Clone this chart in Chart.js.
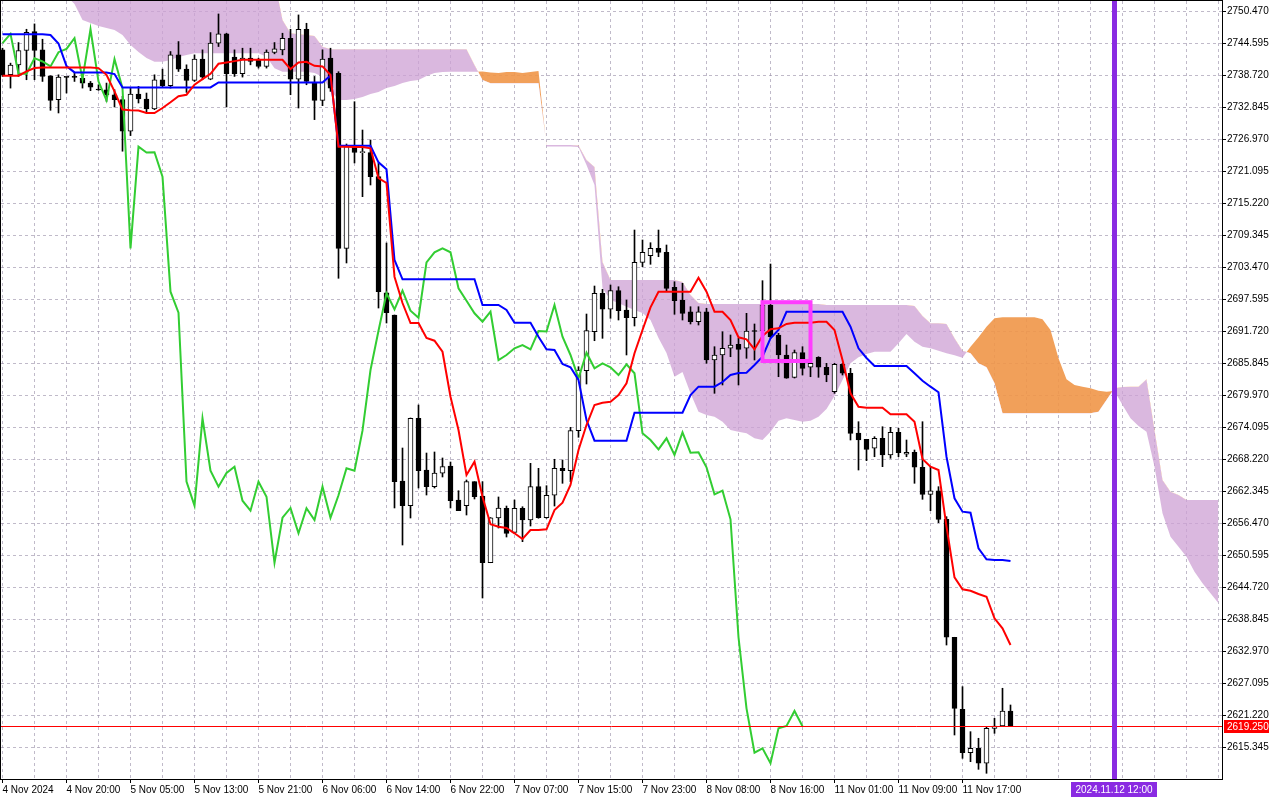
<!DOCTYPE html>
<html>
<head>
<meta charset="utf-8">
<title>XAUUSD H1 Ichimoku</title>
<script src="https://cdn.jsdelivr.net/npm/chart.js@4.4.1/dist/chart.umd.min.js"></script>
<style>
    html, body { margin: 0; padding: 0; background: #ffffff; }
    #wrap { width: 1280px; height: 800px; }
</style>
</head>
<body>
<div id="wrap"><canvas id="ichimokuChart" width="1280" height="800"></canvas></div>
<script>
// Time axis labels (every 8th hourly bar)
var timeLabels = ['4 Nov 2024', '4 Nov 20:00', '5 Nov 05:00', '5 Nov 13:00', '5 Nov 21:00', '6 Nov 06:00',
    '6 Nov 14:00', '6 Nov 22:00', '7 Nov 07:00', '7 Nov 15:00', '7 Nov 23:00', '8 Nov 08:00',
    '8 Nov 16:00', '11 Nov 01:00', '11 Nov 09:00', '11 Nov 17:00'];

var priceTicks = [2750.470, 2744.595, 2738.720, 2732.845, 2726.970, 2721.095, 2715.220, 2709.345,
    2703.470, 2697.595, 2691.720, 2685.845, 2679.970, 2674.095, 2668.220, 2662.345, 2656.470,
    2650.595, 2644.720, 2638.845, 2632.970, 2627.095, 2621.220, 2615.345];

var opens = [2743.43, 2738.85, 2740.68, 2743.31, 2746.78, 2743.43, 2738.67, 2734.28, 2738.43, 2738.43,
    2738.18, 2737.33, 2736.11, 2736.11, 2735.19, 2734.28, 2728.48, 2735.32, 2734.40, 2732.58,
    2737.94, 2736.84, 2742.51, 2739.89, 2737.82, 2741.72, 2738.06, 2744.65, 2746.36, 2742.09,
    2739.04, 2741.90, 2741.60, 2740.38, 2742.94, 2743.43, 2745.56, 2738.06, 2747.21, 2737.45,
    2734.16, 2741.90, 2739.12, 2706.99, 2725.54, 2724.55, 2724.55, 2720.14, 2698.84, 2694.75,
    2664.27, 2659.74, 2675.78, 2666.29, 2663.23, 2665.69, 2667.03, 2660.79, 2659.74, 2664.15,
    2661.52, 2649.27, 2657.48, 2659.26, 2654.85, 2659.26, 2657.11, 2663.23, 2657.53, 2661.65,
    2666.60, 2666.16, 2673.51, 2684.52, 2691.68, 2698.73, 2695.80, 2699.21, 2695.67, 2694.25,
    2704.42, 2705.64, 2706.99, 2706.26, 2699.84, 2697.50, 2695.35, 2693.52, 2695.35, 2686.49,
    2687.41, 2688.64, 2689.37, 2688.64, 2691.81, 2691.81, 2696.59, 2691.08, 2687.41, 2683.31,
    2687.83, 2685.15, 2686.98, 2685.15, 2680.67, 2685.70, 2684.05, 2673.09, 2671.93, 2670.28,
    2672.11, 2669.05, 2673.21, 2669.18, 2669.54, 2666.79, 2661.83, 2662.49, 2657.24, 2635.58,
    2622.36, 2614.39, 2615.20, 2612.45, 2618.87, 2619.29, 2622.05];

var highs = [2743.73, 2740.99, 2744.77, 2747.21, 2748.19, 2745.38, 2738.67, 2738.85, 2738.43, 2739.28,
    2738.67, 2737.63, 2737.02, 2737.33, 2736.11, 2734.89, 2736.41, 2736.72, 2735.50, 2738.85,
    2739.89, 2743.12, 2744.95, 2740.68, 2742.51, 2743.43, 2746.60, 2750.02, 2746.48, 2743.43,
    2743.73, 2743.73, 2741.90, 2743.43, 2744.77, 2746.48, 2747.21, 2749.84, 2748.31, 2738.55,
    2743.43, 2743.73, 2739.42, 2726.14, 2733.91, 2728.71, 2726.88, 2722.66, 2707.97, 2694.75,
    2670.33, 2675.84, 2678.23, 2669.41, 2669.60, 2668.50, 2667.76, 2662.49, 2664.46, 2664.15,
    2664.15, 2657.56, 2661.34, 2659.68, 2660.79, 2659.55, 2667.52, 2666.60, 2663.41, 2668.26,
    2668.13, 2674.13, 2685.26, 2694.93, 2700.07, 2699.47, 2700.26, 2699.94, 2697.50, 2710.35,
    2708.52, 2708.02, 2710.35, 2707.60, 2700.86, 2700.57, 2696.27, 2696.27, 2695.98, 2688.93,
    2691.68, 2691.08, 2690.47, 2695.06, 2693.10, 2701.05, 2704.11, 2691.39, 2689.24, 2688.32,
    2688.93, 2686.49, 2687.09, 2685.88, 2685.88, 2685.88, 2684.96, 2675.16, 2671.93, 2672.41,
    2674.24, 2674.13, 2673.95, 2671.80, 2669.96, 2675.16, 2666.90, 2663.23, 2657.72, 2635.58,
    2626.51, 2618.25, 2617.04, 2619.17, 2620.71, 2626.22, 2623.15];

var lows = [2738.55, 2736.41, 2738.55, 2737.94, 2737.94, 2737.63, 2732.33, 2731.84, 2735.50, 2737.63,
    2736.41, 2735.93, 2735.99, 2733.97, 2732.94, 2724.82, 2727.69, 2733.67, 2731.84, 2732.45,
    2736.60, 2736.41, 2739.46, 2735.62, 2737.63, 2737.94, 2737.94, 2744.04, 2732.94, 2738.55,
    2738.43, 2740.68, 2740.08, 2740.08, 2742.70, 2742.51, 2735.19, 2732.75, 2737.02, 2730.62,
    2733.18, 2735.80, 2701.49, 2704.30, 2722.66, 2716.47, 2718.62, 2696.03, 2693.28, 2659.32,
    2652.52, 2657.48, 2662.99, 2661.70, 2662.99, 2665.01, 2659.32, 2658.82, 2658.03, 2660.97,
    2642.79, 2649.27, 2655.64, 2653.99, 2654.67, 2653.13, 2656.01, 2657.43, 2657.43, 2659.68,
    2663.85, 2664.15, 2672.30, 2682.08, 2690.03, 2690.47, 2694.14, 2693.83, 2687.41, 2692.73,
    2703.62, 2704.06, 2705.45, 2699.03, 2694.88, 2693.83, 2693.10, 2692.91, 2685.88, 2680.37,
    2681.90, 2687.09, 2681.90, 2686.80, 2686.49, 2690.53, 2690.47, 2683.42, 2683.13, 2683.18,
    2683.73, 2683.42, 2683.31, 2682.50, 2680.37, 2683.73, 2671.80, 2666.29, 2668.00, 2668.73,
    2666.90, 2668.44, 2668.73, 2668.73, 2663.85, 2660.91, 2658.82, 2656.62, 2634.16, 2617.64,
    2613.36, 2612.74, 2611.34, 2610.61, 2617.95, 2619.17, 2619.25];

var closes = [2738.85, 2740.62, 2743.31, 2746.66, 2743.31, 2738.55, 2734.16, 2738.43, 2738.37, 2738.37,
    2737.33, 2736.60, 2736.05, 2735.19, 2734.28, 2728.48, 2735.32, 2734.40, 2732.58, 2737.94,
    2736.84, 2742.51, 2739.89, 2737.82, 2741.72, 2738.43, 2744.65, 2746.36, 2739.04, 2739.04,
    2741.90, 2741.29, 2740.38, 2743.00, 2743.61, 2745.56, 2738.06, 2747.21, 2737.63, 2734.16,
    2741.72, 2736.41, 2706.99, 2725.65, 2724.58, 2724.64, 2720.14, 2699.03, 2695.17, 2664.15,
    2659.74, 2675.78, 2666.16, 2663.23, 2665.74, 2666.90, 2660.66, 2658.82, 2664.15, 2661.39,
    2649.27, 2657.53, 2659.32, 2654.67, 2659.26, 2657.11, 2663.23, 2657.53, 2661.65, 2666.60,
    2666.16, 2673.51, 2684.65, 2691.87, 2698.73, 2695.80, 2699.21, 2695.54, 2694.25, 2704.42,
    2706.26, 2706.99, 2706.26, 2699.65, 2697.37, 2695.06, 2693.52, 2695.35, 2686.49, 2687.41,
    2688.64, 2689.24, 2688.45, 2691.81, 2691.72, 2696.59, 2690.77, 2687.41, 2683.13, 2687.83,
    2684.96, 2685.88, 2685.15, 2683.73, 2685.70, 2684.05, 2673.03, 2671.80, 2670.09, 2672.11,
    2669.05, 2673.21, 2669.47, 2669.54, 2666.79, 2661.83, 2662.49, 2657.24, 2635.58, 2622.54,
    2614.39, 2615.20, 2612.45, 2618.87, 2619.29, 2622.05, 2619.25];

var tenkan = [2738.68, 2738.68, 2738.68, 2739.47, 2740.08, 2740.21, 2740.21, 2740.21, 2740.21, 2740.21,
    2740.21, 2740.21, 2740.08, 2738.85, 2735.80, 2732.46, 2732.33, 2732.28, 2731.83, 2731.83,
    2732.75, 2733.80, 2734.90, 2735.19, 2737.03, 2738.06, 2739.03, 2740.87, 2741.11, 2741.36,
    2741.60, 2741.60, 2741.60, 2741.60, 2741.60, 2741.60, 2739.89, 2741.11, 2741.23, 2740.50,
    2740.39, 2738.81, 2725.65, 2725.65, 2725.59, 2725.59, 2725.35, 2719.90, 2718.98, 2701.78,
    2696.95, 2693.28, 2693.28, 2690.53, 2690.03, 2688.01, 2679.75, 2673.64, 2665.38, 2667.82,
    2661.39, 2656.32, 2655.88, 2655.64, 2654.67, 2653.63, 2655.28, 2655.28, 2655.41, 2658.95,
    2660.29, 2663.54, 2669.96, 2674.55, 2678.23, 2678.65, 2678.83, 2680.06, 2682.21, 2687.72,
    2691.99, 2696.16, 2699.03, 2699.03, 2699.03, 2699.03, 2699.03, 2701.60, 2699.03, 2695.35,
    2695.35, 2693.83, 2690.66, 2690.29, 2688.45, 2690.89, 2692.12, 2692.31, 2693.10, 2693.34,
    2693.34, 2693.34, 2693.52, 2693.52, 2691.99, 2686.49, 2680.37, 2677.91, 2677.73, 2677.73,
    2677.73, 2676.52, 2676.52, 2676.52, 2675.16, 2668.31, 2666.90, 2666.29, 2655.88, 2646.59,
    2644.39, 2644.13, 2643.53, 2643.03, 2639.07, 2637.23, 2634.16];

var kijun = [2746.30, 2746.30, 2746.30, 2746.30, 2746.30, 2746.30, 2746.15, 2744.59, 2740.46, 2739.29,
    2739.29, 2739.29, 2739.29, 2739.29, 2738.99, 2736.53, 2736.53, 2736.53, 2736.53, 2736.53,
    2736.53, 2736.53, 2736.53, 2736.53, 2736.53, 2736.53, 2736.53, 2737.45, 2737.45, 2737.45,
    2737.45, 2737.45, 2737.45, 2737.45, 2737.45, 2737.45, 2737.45, 2737.45, 2737.45, 2737.45,
    2737.45, 2738.72, 2725.83, 2725.83, 2725.83, 2725.83, 2725.83, 2722.78, 2721.50, 2704.85,
    2701.30, 2701.30, 2701.30, 2701.30, 2701.30, 2701.30, 2701.30, 2701.30, 2701.30, 2701.30,
    2696.59, 2696.59, 2696.59, 2695.67, 2693.34, 2693.34, 2693.34, 2690.77, 2688.45, 2688.32,
    2685.75, 2685.15, 2682.82, 2675.47, 2671.67, 2671.67, 2671.67, 2671.67, 2671.67, 2676.81,
    2676.81, 2676.81, 2676.81, 2676.81, 2676.81, 2676.81, 2680.06, 2681.59, 2681.59, 2681.59,
    2682.45, 2683.73, 2684.10, 2684.16, 2685.57, 2687.09, 2690.47, 2691.99, 2695.35, 2695.35,
    2695.35, 2695.35, 2695.35, 2695.35, 2695.35, 2695.35, 2692.60, 2688.64, 2686.86, 2685.39,
    2685.39, 2685.39, 2685.39, 2685.39, 2684.05, 2682.69, 2681.59, 2680.56, 2668.73, 2661.10,
    2658.64, 2658.45, 2651.92, 2649.90, 2649.77, 2649.77, 2649.59];

// Senkou spans, already shifted 26 bars forward (153 bars incl. future)
var spanA = [2754.42, 2754.42, 2754.42, 2754.42, 2754.42, 2754.42, 2754.42, 2754.42, 2753.31, 2751.85,
    2748.91, 2748.36, 2747.81, 2747.44, 2747.07, 2746.15, 2744.32, 2743.03, 2741.93, 2741.25,
    2741.25, 2741.57, 2742.12, 2742.48, 2742.80, 2742.80, 2742.80, 2742.80, 2742.80, 2742.80,
    2742.80, 2742.80, 2742.80, 2742.17, 2740.04, 2739.42, 2739.42, 2739.42, 2739.42, 2739.18,
    2738.50, 2736.06, 2734.22, 2734.22, 2734.41, 2734.77, 2735.32, 2735.69, 2736.42, 2736.79,
    2737.34, 2737.71, 2737.89, 2738.63, 2739.18, 2739.36, 2739.42, 2739.42, 2739.42, 2739.42,
    2739.45, 2739.27, 2739.18, 2739.36, 2739.36, 2739.18, 2739.36, 2739.55, 2725.68, 2725.68,
    2725.68, 2725.68, 2725.59, 2722.29, 2718.62, 2699.71, 2697.50, 2696.95, 2696.27, 2695.67,
    2695.12, 2693.83, 2690.53, 2687.77, 2683.42, 2684.29, 2680.37, 2677.00, 2676.39, 2676.08,
    2675.16, 2673.64, 2673.32, 2673.03, 2672.11, 2671.80, 2673.32, 2675.34, 2675.79, 2675.47,
    2675.16, 2675.34, 2676.08, 2677.49, 2679.88, 2682.82, 2685.88, 2686.98, 2687.59, 2688.01,
    2688.01, 2688.01, 2689.55, 2691.26, 2689.85, 2688.93, 2688.64, 2688.20, 2687.72, 2687.35,
    2686.91, 2688.93, 2690.66, 2692.60, 2694.14, 2694.33, 2694.33, 2694.33, 2694.33, 2694.33,
    2693.96, 2691.99, 2686.80, 2682.94, 2681.90, 2681.59, 2681.29, 2680.85, 2680.67, 2680.80,
    2678.23, 2675.79, 2674.37, 2673.32, 2666.90, 2658.34, 2654.05, 2652.21, 2650.38, 2647.62,
    2645.49, 2643.66, 2641.82];

var spanB = [2756.25, 2756.25, 2756.25, 2756.25, 2756.25, 2756.25, 2756.25, 2756.25, 2756.25, 2756.25,
    2756.25, 2756.25, 2756.25, 2756.25, 2756.25, 2756.25, 2756.25, 2756.25, 2756.25, 2756.25,
    2756.25, 2756.25, 2756.25, 2756.25, 2756.25, 2756.25, 2756.25, 2756.25, 2756.25, 2756.25,
    2756.25, 2756.25, 2756.25, 2756.25, 2756.25, 2748.91, 2746.47, 2746.28, 2746.15, 2745.97,
    2744.01, 2743.53, 2743.53, 2743.53, 2743.53, 2743.53, 2743.53, 2743.53, 2743.53, 2743.53,
    2743.53, 2743.53, 2743.53, 2743.53, 2743.53, 2743.53, 2743.53, 2743.53, 2743.53, 2740.65,
    2737.89, 2737.29, 2737.29, 2737.29, 2737.29, 2737.29, 2737.29, 2737.29, 2725.96, 2725.96,
    2725.96, 2725.96, 2725.87, 2723.21, 2721.92, 2704.48, 2701.18, 2701.18, 2701.18, 2701.18,
    2701.18, 2701.18, 2701.18, 2701.18, 2701.18, 2700.81, 2698.42, 2696.95, 2696.77, 2696.77,
    2696.77, 2696.77, 2696.77, 2696.77, 2696.77, 2696.77, 2696.77, 2696.77, 2696.77, 2696.77,
    2696.77, 2696.77, 2696.77, 2696.59, 2696.59, 2696.59, 2696.59, 2696.59, 2696.59, 2696.59,
    2696.59, 2696.59, 2696.59, 2696.59, 2696.40, 2694.57, 2693.23, 2693.23, 2693.10, 2690.47,
    2688.20, 2687.72, 2685.88, 2685.15, 2682.21, 2676.70, 2676.70, 2676.70, 2676.70, 2676.70,
    2676.70, 2676.70, 2676.70, 2676.70, 2676.70, 2676.70, 2676.70, 2677.00, 2679.14, 2681.29,
    2681.53, 2681.59, 2681.59, 2682.94, 2673.64, 2664.46, 2662.31, 2661.70, 2660.79, 2660.79,
    2660.79, 2660.79, 2660.79];

var lastPrice = 2619.25;
var markerBar = 139;
var markerLabel = '2024.11.12 12:00';
var signalBox = { from: 95, to: 101, top: 2697.1, bottom: 2686.3 };

document.addEventListener('DOMContentLoaded', function() {
    // Chikou span: close plotted 26 bars back
    var chikou = closes.slice(26);

    function points(values) {
        return values.map(function(v, i) { return { x: i, y: v }; });
    }

    var fontFamily = "'Liberation Sans', Arial, sans-serif";
    Chart.defaults.font.family = fontFamily;
    Chart.defaults.font.size = 10;
    Chart.defaults.color = '#000000';

    var gridColor = 'rgba(150, 140, 165, 0.6)';

    var overlays = {
        id: 'overlays',
        afterDatasetsDraw: function(chart) {
            var c = chart.ctx, a = chart.chartArea, xs = chart.scales.x, ys = chart.scales.y;
            c.save();
            c.beginPath();
            c.rect(a.left, a.top, a.right - a.left, a.bottom - a.top);
            c.clip();

            // signal box
            var bx1 = xs.getPixelForValue(signalBox.from), bx2 = xs.getPixelForValue(signalBox.to);
            var by1 = ys.getPixelForValue(signalBox.top), by2 = ys.getPixelForValue(signalBox.bottom);
            c.strokeStyle = '#ff3cff';
            c.lineWidth = 4;
            c.strokeRect(bx1, by1, bx2 - bx1, by2 - by1);

            // bid line
            var py = Math.round(ys.getPixelForValue(lastPrice)) + 0.5;
            c.strokeStyle = '#ff0000';
            c.lineWidth = 1;
            c.beginPath();
            c.moveTo(a.left, py);
            c.lineTo(a.right, py);
            c.stroke();

            // vertical time marker
            var mx = Math.round(xs.getPixelForValue(markerBar));
            c.fillStyle = '#8a2be2';
            c.fillRect(mx - 3, a.top, 5, a.bottom - a.top);
            c.restore();
        },
        afterDraw: function(chart) {
            var c = chart.ctx, a = chart.chartArea, xs = chart.scales.x, ys = chart.scales.y;
            c.save();
            c.strokeStyle = '#000000';
            c.lineWidth = 1;
            c.strokeRect(a.left - 0.5, a.top - 0.5, a.right - a.left + 1, a.bottom - a.top + 1);

            c.font = '10px ' + fontFamily;
            c.textBaseline = 'middle';

            var py = Math.round(ys.getPixelForValue(lastPrice));
            c.fillStyle = '#ff0000';
            c.fillRect(a.right + 2, py - 6, 45, 13);
            c.fillStyle = '#ffffff';
            c.textAlign = 'left';
            c.fillText(lastPrice.toFixed(3), a.right + 5, py + 1);

            var mx = Math.round(xs.getPixelForValue(markerBar));
            c.fillStyle = '#8a2be2';
            c.fillRect(mx - 44, a.bottom + 3, 86, 15);
            c.fillStyle = '#ffffff';
            c.textAlign = 'center';
            c.fillText(markerLabel, mx - 1, a.bottom + 11);
            c.restore();
        }
    };

    var ctx = document.getElementById('ichimokuChart').getContext('2d');
    var ichimokuChart = new Chart(ctx, {
        type: 'bar',
        data: {
            datasets: [{
                type: 'line',
                label: 'Senkou Span B',
                data: points(spanB),
                borderColor: 'rgba(0,0,0,0)',
                borderWidth: 0,
                pointRadius: 0,
                fill: false,
                order: 6
            }, {
                type: 'line',
                label: 'Senkou Span A',
                data: points(spanA),
                borderColor: 'rgba(0,0,0,0)',
                borderWidth: 0,
                pointRadius: 0,
                fill: {
                    target: 0,
                    above: 'rgba(240, 150, 72, 0.9)',
                    below: 'rgba(205, 160, 212, 0.75)'
                },
                order: 5
            }, {
                label: 'Wicks',
                data: highs.map(function(h, i) { return { x: i, y: [lows[i], h] }; }),
                backgroundColor: '#000000',
                barThickness: 1,
                grouped: false,
                order: 4
            }, {
                label: 'Bodies',
                data: opens.map(function(o, i) { return { x: i, y: [o, closes[i]] }; }),
                backgroundColor: opens.map(function(o, i) { return closes[i] >= o ? '#ffffff' : '#000000'; }),
                borderColor: '#000000',
                borderWidth: 1,
                borderSkipped: false,
                barThickness: 5,
                minBarLength: 1,
                grouped: false,
                order: 3
            }, {
                type: 'line',
                label: 'Chikou Span',
                data: points(chikou),
                borderColor: '#32cd32',
                borderWidth: 2,
                pointRadius: 0,
                fill: false,
                order: 2
            }, {
                type: 'line',
                label: 'Kijun-sen',
                data: points(kijun),
                borderColor: '#0000ff',
                borderWidth: 2,
                pointRadius: 0,
                fill: false,
                order: 1
            }, {
                type: 'line',
                label: 'Tenkan-sen',
                data: points(tenkan),
                borderColor: '#ff0000',
                borderWidth: 2,
                pointRadius: 0,
                fill: false,
                order: 0
            }]
        },
        options: {
            responsive: false,
            animation: false,
            devicePixelRatio: 1,
            events: [],
            layout: { padding: { top: 1, left: 1, right: 0, bottom: 0 } },
            plugins: {
                legend: { display: false },
                tooltip: { enabled: false }
            },
            scales: {
                x: {
                    type: 'linear',
                    min: -0.1875,
                    max: 152.4375,
                    offset: false,
                    grid: {
                        offset: false,
                        color: gridColor,
                        lineWidth: 1,
                        tickLength: 4,
                        tickBorderDash: [],
                        tickColor: function(c) { return c.tick && c.tick.label ? '#000000' : 'rgba(0,0,0,0)'; }
                    },
                    border: { display: false, dash: [3, 3] },
                    ticks: {
                        autoSkip: false,
                        maxRotation: 0,
                        minRotation: 0,
                        align: 'start',
                        padding: 1,
                        callback: function(v) {
                            return (v % 8 === 0 && v / 8 < timeLabels.length) ? timeLabels[v / 8] : '';
                        }
                    },
                    afterBuildTicks: function(scale) {
                        var t = [];
                        for (var v = 0; v <= 152; v += 4) t.push({ value: v });
                        scale.ticks = t;
                    },
                    afterFit: function(scale) {
                        scale.height = 21;
                        scale.paddingLeft = 0;
                        scale.paddingRight = 0;
                    }
                },
                y: {
                    position: 'right',
                    min: 2609.562,
                    max: 2752.398,
                    grid: {
                        color: gridColor,
                        lineWidth: 1,
                        tickLength: 4,
                        tickBorderDash: [],
                        tickColor: '#000000'
                    },
                    border: { display: false, dash: [3, 3] },
                    ticks: {
                        padding: 1,
                        callback: function(v) { return Number(v).toFixed(3); }
                    },
                    afterBuildTicks: function(scale) {
                        scale.ticks = priceTicks.map(function(v) { return { value: v }; });
                    },
                    afterFit: function(scale) {
                        scale.width = 58;
                        scale.paddingTop = 0;
                        scale.paddingBottom = 0;
                    }
                }
            }
        },
        plugins: [overlays]
    });
});
</script>
</body>
</html>
